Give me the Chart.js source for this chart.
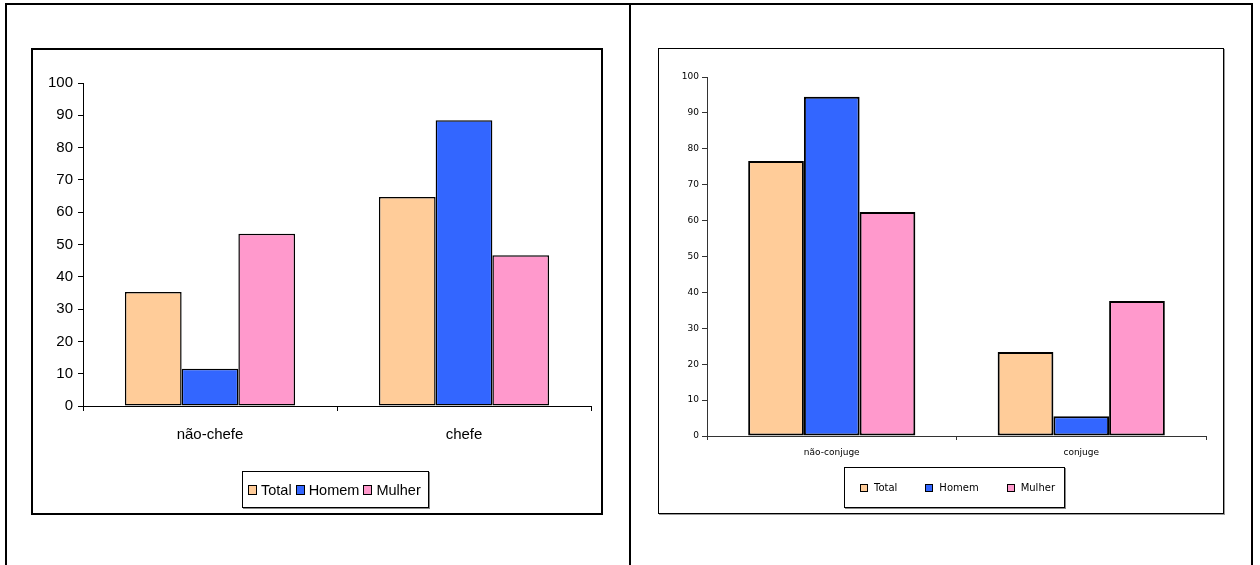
<!DOCTYPE html>
<html lang="pt">
<head>
<meta charset="utf-8">
<title>Chefe e cônjuge por sexo</title>
<script src="https://cdn.jsdelivr.net/npm/chart.js@4/dist/chart.umd.min.js"></script>
<style>
  html, body { margin: 0; padding: 0; background: #fff; }
  body { width: 1260px; height: 565px; position: relative; overflow: hidden; }
  .frame { position: absolute; left: 5px; top: 3px; width: 1248px; height: 620px; border: 2px solid #000; box-sizing: border-box; }
  .divider { position: absolute; left: 629px; top: 3px; width: 2px; height: 620px; background: #000; }
  .box { position: absolute; box-sizing: border-box; background: #fff; }
  #boxA { left: 31px; top: 48px; width: 572px; height: 467px; border: 2px solid #000; }
  #boxB { left: 658px; top: 48px; width: 566px; height: 466px; border: 1px solid #000; box-shadow: 1px 1px 0 #999; }
  canvas { position: absolute; }
  #chartA { left: 33px; top: 50px; }
  #chartB { left: 659px; top: 49px; }
  .legend { position: absolute; box-sizing: border-box; border: 1px solid #000; background: #fff;
            display: flex; align-items: center; box-shadow: 1px 1px 0 #888; white-space: nowrap; }
  #legendA { left: 242px; top: 471px; width: 187px; height: 37px; padding-left: 5px;
             font: 14.5px "Liberation Sans", Arial, sans-serif; }
  #legendB { left: 844px; top: 467px; width: 221px; height: 41px; padding-left: 15px;
             font: 10px "DejaVu Sans", Verdana, sans-serif; }
  .item { display: flex; align-items: center; }
  .sw { display: inline-block; box-sizing: border-box; border: 1px solid #000; }
  #legendA .sw { width: 9px; height: 10px; margin-right: 4px; border-width: 1.5px; }
  #legendA .item { margin-right: 4px; }
  #legendB .sw { width: 8px; height: 8px; border-width: 1.5px; margin-right: 6px; }
  #legendB .item { margin-right: 28px; }
</style>
</head>
<body>
<div class="frame"></div>
<div class="divider"></div>
<div class="box" id="boxA"></div>
<div class="box" id="boxB"></div>
<canvas id="chartA" width="567" height="462"></canvas>
<canvas id="chartB" width="563" height="464"></canvas>
<div class="legend" id="legendA"></div>
<div class="legend" id="legendB"></div>
<script>
// Categories
const categoriesChefe = ['não-chefe', 'chefe'];
const categoriesConjuge = ['não-conjuge', 'conjuge'];

// Series names and colours
const seriesNames = ['Total', 'Homem', 'Mulher'];
const seriesColors = ['#FFCC99', '#3366FF', '#FF99CC'];

// Percentages: chefe / não-chefe
const totalChefe = [35.3, 64.7];
const homemChefe = [11.5, 88.5];
const mulherChefe = [53.3, 46.7];

// Percentages: cônjuge / não-cônjuge
const totalConjuge = [76.6, 23.4];
const homemConjuge = [94.5, 5.5];
const mulherConjuge = [62.4, 37.6];

// Value axis
const yMin = 0;
const yMax = 100;
const yStep = 10;

function makeChart(canvasId, labels, values, cfg) {
  const datasets = values.map((v, i) => ({
    label: seriesNames[i],
    data: v,
    backgroundColor: seriesColors[i],
    borderColor: '#000',
    borderWidth: cfg.barBorder,
    borderSkipped: false,
    categoryPercentage: 0.67,
    barPercentage: 1
  }));
  return new Chart(document.getElementById(canvasId), {
    type: 'bar',
    data: { labels, datasets },
    options: {
      responsive: false,
      animation: false,
      events: [],
      layout: { padding: cfg.padding },
      plugins: { legend: { display: false }, tooltip: { enabled: false } },
      scales: {
        x: {
          offset: true,
          afterFit: s => { s.height = cfg.xHeight; },
          grid: { offset: true, drawOnChartArea: false, drawTicks: true, tickLength: cfg.xTickLen, color: cfg.axisColor },
          border: { display: true, color: cfg.axisColor, width: 1 },
          ticks: { color: '#000', font: cfg.font, padding: cfg.xPad, maxRotation: 0 }
        },
        y: {
          min: yMin, max: yMax,
          afterFit: s => { s.width = cfg.yWidth; },
          grid: { drawOnChartArea: false, drawTicks: true, tickLength: 5, color: cfg.axisColor },
          border: { display: true, color: cfg.axisColor, width: 1 },
          ticks: { stepSize: yStep, color: '#000', font: cfg.font, padding: cfg.yPad }
        }
      }
    }
  });
}

function makeLegend(id) {
  const el = document.getElementById(id);
  seriesNames.forEach((name, i) => {
    const item = document.createElement('span');
    item.className = 'item';
    const sw = document.createElement('span');
    sw.className = 'sw';
    sw.style.background = seriesColors[i];
    const txt = document.createElement('span');
    txt.textContent = name;
    item.appendChild(sw);
    item.appendChild(txt);
    el.appendChild(item);
  });
}

makeChart('chartA', categoriesChefe, [totalChefe, homemChefe, mulherChefe], {
  barBorder: 1.5,
  padding: { left: 0, top: 33, right: 9, bottom: 0 },
  xHeight: 106, yWidth: 50,
  xTickLen: 5, xPad: 15, yPad: 5,
  axisColor: '#000',
  font: { family: '"Liberation Sans", Arial, sans-serif', size: 15 }
});

makeChart('chartB', categoriesConjuge, [totalConjuge, homemConjuge, mulherConjuge], {
  barBorder: 2,
  padding: { left: 0, top: 28, right: 16, bottom: 0 },
  xHeight: 77, yWidth: 48,
  xTickLen: 4, xPad: 7, yPad: 3,
  axisColor: '#333',
  font: { family: '"DejaVu Sans", Verdana, sans-serif', size: 9 }
});

makeLegend('legendA');
makeLegend('legendB');
</script>
</body>
</html>
